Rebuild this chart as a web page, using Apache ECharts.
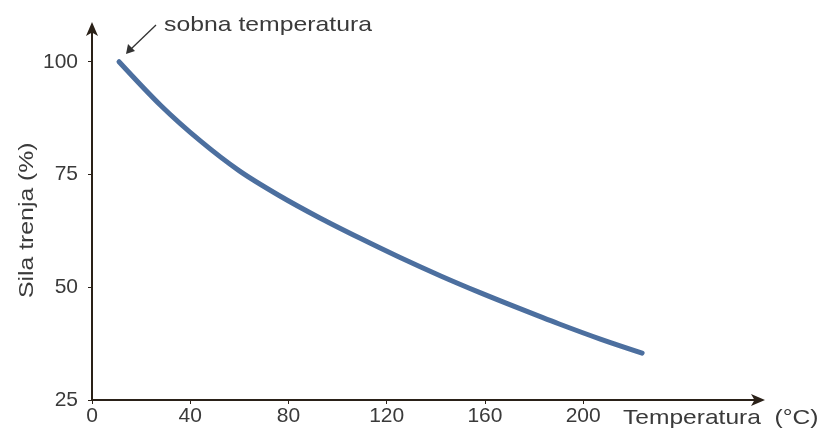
<!DOCTYPE html>
<html>
<head>
<meta charset="utf-8">
<script src="https://cdn.jsdelivr.net/npm/echarts@6/dist/echarts.min.js"></script>
<style>html,body{margin:0;padding:0;background:#fff}#c{width:826px;height:432px}</style>
</head>
<body>
<div id="c"></div>
<script>
// Data
const temperature = [11, 28, 44, 60, 76, 93, 109, 125, 142, 158, 174, 190, 207, 224];
const friction    = [100, 90.3, 82.5, 75.8, 70.4, 65.3, 60.9, 56.7, 52.5, 48.8, 45.3, 41.9, 38.5, 35.4];
const xTicks = [0, 40, 80, 120, 160, 200];
const yTicks = [25, 50, 75, 100];
const yAxisTitle = 'Sila trenja (%)';
const xAxisTitle = 'Temperatura  (°C)';
const noteText = 'sobna temperatura';

const chart = echarts.init(document.getElementById('c'), null, {renderer: 'canvas'});
const txt = '#3a3a3a';
const axisCol = '#2a2118';
const font = '21px "Liberation Sans", Arial, sans-serif';
chart.setOption({
  animation: false,
  backgroundColor: '#ffffff',
  grid: {left: 92, right: 66, top: 27, bottom: 32, containLabel: false},
  xAxis: {
    type: 'value', min: 0, max: 272,
    axisLine: {show: true, lineStyle: {color: axisCol, width: 2}, symbol: ['none', 'arrow'], symbolSize: [9, 14], symbolOffset: [0, 5]},
    axisTick: {show: true, customValues: xTicks, length: 4, lineStyle: {color: axisCol, width: 1}},
    axisLabel: {customValues: xTicks, color: txt, fontFamily: 'Liberation Sans, Arial, sans-serif', fontSize: 21, margin: 6},
    splitLine: {show: false}
  },
  yAxis: {
    type: 'value', min: 25, max: 107.7,
    axisLine: {show: true, lineStyle: {color: axisCol, width: 2}, symbol: ['none', 'arrow'], symbolSize: [9, 14], symbolOffset: [0, 5]},
    axisTick: {show: true, customValues: yTicks, length: 4, lineStyle: {color: axisCol, width: 1}},
    axisLabel: {customValues: yTicks, color: txt, fontFamily: 'Liberation Sans, Arial, sans-serif', fontSize: 21, margin: 14},
    splitLine: {show: false}
  },
  graphic: [
    {type: 'text', x: 27, y: 298, rotation: Math.PI / 2, scaleX: 1.18,
     style: {text: yAxisTitle, fill: txt, font: font, textAlign: 'left', textVerticalAlign: 'middle'}},
    {type: 'text', x: 623, y: 418, scaleX: 1.17,
     style: {text: xAxisTitle, fill: txt, font: font, textAlign: 'left', textVerticalAlign: 'middle'}},
    {type: 'text', x: 164, y: 25, scaleX: 1.18,
     style: {text: noteText, fill: txt, font: font, textAlign: 'left', textVerticalAlign: 'middle'}},
    {type: 'line', shape: {x1: 156, y1: 25, x2: 131, y2: 49}, style: {stroke: '#333', lineWidth: 1.3}},
    {type: 'polygon', shape: {points: [[126, 54], [128, 44], [135, 51]]}, style: {fill: '#333'}}
  ],
  series: [{
    type: 'line',
    data: temperature.map((t, i) => [t, friction[i]]),
    smooth: 0.3,
    showSymbol: false,
    lineStyle: {color: '#4c6f9f', width: 5, cap: 'round'}
  }]
});
</script>
</body>
</html>
